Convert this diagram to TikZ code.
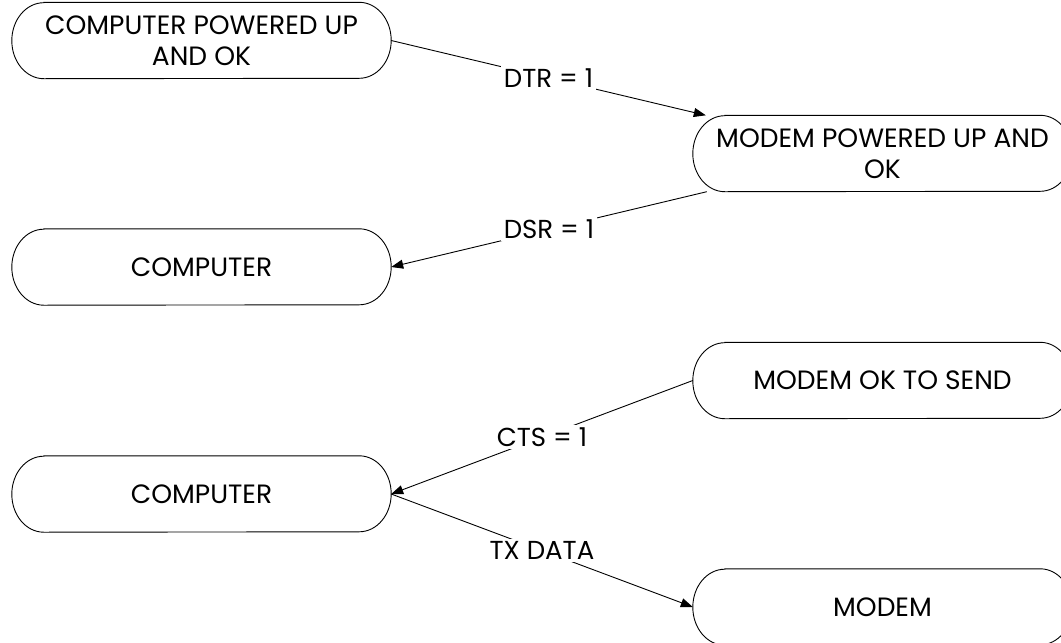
\documentclass[tikz,border=0pt]{standalone}
\usepackage{fontspec}
\setmainfont{Poppins}
\usetikzlibrary{arrows.meta}
\begin{document}
\begin{tikzpicture}[x=1pt,y=-1pt,
  box/.style={draw=none, minimum width=379pt, minimum height=76pt, inner sep=0pt,
    align=center, font=\fontsize{26.5}{31}\selectfont},
  border/.style={draw=black, line width=0.9pt},
  lbl/.style={fill=white, inner sep=2.5pt, font=\fontsize{26}{30}\selectfont},
  conn/.style={draw=black, line width=0.9pt},
  arr/.style={conn, -{Triangle[length=12pt,width=9pt]}}]
\useasboundingbox (0,0) rectangle (1061,643);
\clip (0,0) rectangle (1061,643);
\node[box] (n1) at (201.5,40.5) {COMPUTER POWERED UP\\AND OK};
\node[box] (n2) at (882.5,153.5) {MODEM POWERED UP AND\\OK};
\node[box] (n3) at (201.5,267) {COMPUTER};
\node[box] (n4) at (882.5,380.5) {MODEM OK TO SEND};
\node[box] (n5) at (201.5,494) {COMPUTER};
\node[box] (n6) at (882.5,607) {MODEM};
\foreach \n in {n1,n2,n3,n4,n5,n6}{
  \draw[border] ([xshift=32pt]\n.north west) -- ([xshift=-32pt]\n.north east)
    arc[start angle=90, end angle=-90, x radius=32pt, y radius=38pt]
    -- ([xshift=32pt]\n.south west)
    arc[start angle=270, end angle=90, x radius=32pt, y radius=38pt] -- cycle;
}
\draw[arr] (n1.east) -- node[lbl] {DTR = 1} ([xshift=13pt]n2.north west);
\draw[arr] ([xshift=14pt]n2.south west) -- node[lbl] {DSR = 1} (n3.east);
\draw[arr] (n4.west) -- node[lbl] {CTS = 1} (n5.east);
\draw[arr] (n5.east) -- node[lbl] {TX DATA} (n6.west);
\end{tikzpicture}
\end{document}
